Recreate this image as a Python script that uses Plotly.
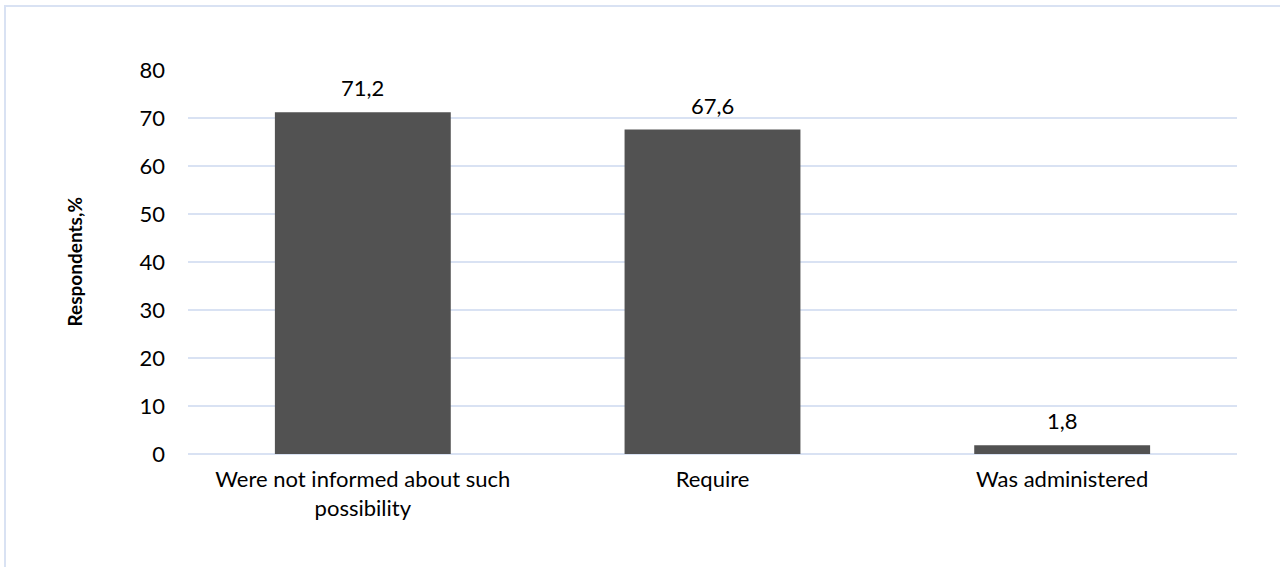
import plotly.graph_objects as go

categories = ["Were not informed about such<br>possibility", "Require", "Was administered"]
respondents_pct = [71.2, 67.6, 1.8]
y_ticks = [0, 10, 20, 30, 40, 50, 60, 70, 80]
y_title = "Respondents,%"

FONT = "Lato"
GRID = "#d9e2f3"
SIZE = 22

fig = go.Figure()
fig.add_trace(go.Bar(
    x=categories,
    y=respondents_pct,
    marker=dict(color="#525252", line=dict(width=0)),
    hoverinfo="skip",
))

# value labels sit a fixed distance above each bar
value_labels = [
    dict(
        x=c, y=v, xref="x", yref="y",
        text=f"{v:.1f}".replace(".", ","),
        showarrow=False,
        yanchor="bottom",
        yshift=9,
        font=dict(family=FONT, size=SIZE, color="#000000"),
    )
    for c, v in zip(categories, respondents_pct)
]

fig.update_layout(
    width=1280,
    height=567,
    margin=dict(l=188, r=43, t=70, b=113),
    paper_bgcolor="white",
    plot_bgcolor="white",
    separators=", ",
    bargap=0.497,
    showlegend=False,
    font=dict(family=FONT, size=SIZE, color="#000000"),
    xaxis=dict(
        showgrid=False,
        showline=False,
        ticks="",
        ticklabelstandoff=10,
        tickfont=dict(family=FONT, size=SIZE),
    ),
    yaxis=dict(
        range=[0, 80],
        tickvals=y_ticks,
        showgrid=True,
        gridcolor=GRID,
        gridwidth=1.5,
        zeroline=True,
        zerolinecolor=GRID,
        zerolinewidth=1.5,
        showline=False,
        ticks="",
        ticklabelstandoff=22,
        tickfont=dict(family=FONT, size=SIZE),
    ),
    annotations=value_labels + [dict(
        text="<b>" + y_title + "</b>",
        xref="paper", yref="paper",
        x=0, y=0.5,
        xshift=-128,
        textangle=-90,
        showarrow=False,
        font=dict(family=FONT, size=19),
    )],
    shapes=[dict(
        type="rect",
        xref="paper", yref="paper",
        x0=-183 / 1049, x1=1.2,
        y0=-0.4, y1=1 + 64 / 384,
        line=dict(color=GRID, width=2),
        fillcolor="rgba(0,0,0,0)",
        layer="below",
    )],
)

fig.write_html("out.html")
